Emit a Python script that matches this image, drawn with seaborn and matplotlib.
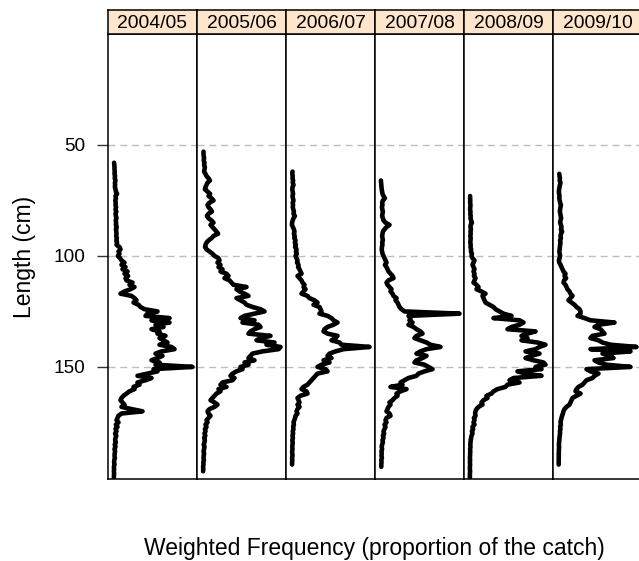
import numpy as np
import pandas as pd
import matplotlib
matplotlib.use("Agg")
import matplotlib.pyplot as plt
import seaborn as sns

seasons = ["2004/05", "2005/06", "2006/07", "2007/08", "2008/09", "2009/10"]
len_start = [58, 53, 62, 66, 73, 63]  # first length class (cm) per season

freq_0405 = [0.03,0.04,0.05,0.05,0.06,0.05,0.08,0.06,0.10,0.07,0.08,0.07,0.10,
             0.12,0.18,0.10,0.12,0.09,0.11,0.10,0.13,0.10,0.14,0.10,0.12,0.15,0.11,0.13,0.12,0.16,0.12,0.14,0.15,
             0.13,0.17,0.14,0.18,0.15,0.30,0.35,0.25,0.30,0.22,
             0.33,0.40,0.55,0.40,0.60,0.45,0.70,0.55,0.73,0.60,0.65,0.95,0.80,1.05,0.85,0.55,0.35,0.90,1.05,1.15,
             1.00,1.25,1.35,1.55,2.20,1.70,1.60,2.80,1.90,2.80,2.10,2.50,1.90,2.30,2.20,2.60,2.30,2.50,2.70,2.30,
             2.90,3.05,2.40,2.10,2.45,2.20,1.90,2.30,2.10,3.95,2.00,2.20,1.70,1.20,1.90,1.60,1.20,1.30,1.00,1.05,
             0.80,0.65,0.50,0.40,0.35,0.45,0.55,0.40,0.90,1.45,0.40,0.25,0.20,0.15,0.25,0.12,0.20,0.10,0.15,0.08,
             0.14,0.10,0.08,0.12,0.06,0.10,0.05,0.08,0.06,0.05,0.07,0.04,0.03,0.05,0.02,0.03,0.02,0.03,0.02,0.02]

freq_0506 = [0.05,0.05,0.06,0.08,0.06,0.10,0.08,0.12,0.10,0.08,
             0.15,0.20,0.30,0.37,0.25,0.20,0.15,0.12,0.25,0.38,0.30,0.45,0.55,0.35,0.25,0.30,0.40,0.47,0.30,0.22,
             0.30,0.45,0.55,0.40,0.50,0.60,0.70,0.78,0.55,0.45,0.30,0.20,0.15,0.13,0.20,0.35,0.50,0.60,
             0.80,0.85,0.75,0.90,0.80,1.00,0.90,1.20,1.30,1.10,1.35,1.45,1.55,2.20,1.70,1.85,2.10,2.30,1.70,1.90,
             2.10,2.20,2.50,2.90,3.10,2.60,2.10,1.90,2.60,2.00,2.80,2.90,2.60,2.40,2.30,3.40,2.90,2.70,3.60,3.20,
             3.90,3.80,3.00,2.50,2.40,2.30,2.60,2.10,2.30,1.90,2.00,1.70,1.50,1.40,1.60,1.50,1.00,0.90,1.20,0.80,
             0.90,0.70,0.60,0.50,0.40,0.60,0.75,0.60,0.35,0.25,0.30,0.40,0.30,0.20,0.25,0.15,0.20,0.12,0.15,0.10,
             0.14,0.08,0.12,0.10,0.06,0.10,0.08,0.05,0.08,0.06,0.05,0.07,0.04,0.05,0.03,0.04,0.03]

freq_0607 = [0.05,0.04,0.06,0.05,0.08,0.06,0.10,0.05,0.04,0.06,0.08,0.05,0.07,0.10,0.06,0.08,0.06,0.09,0.12,0.10,
             0.17,0.10,0.06,0.03,0.02,0.07,0.12,0.15,0.12,0.16,0.14,0.20,0.17,0.22,0.18,0.25,0.22,0.27,0.20,0.25,
             0.30,0.28,0.35,0.33,0.40,0.45,0.50,0.30,0.40,0.50,0.55,0.65,0.60,0.70,0.60,0.50,0.80,0.90,1.15,1.30,
             1.10,1.40,1.45,1.50,1.40,1.80,2.00,2.10,2.30,2.10,1.80,1.65,1.60,1.80,2.30,2.20,2.00,2.40,2.50,3.90,
             2.60,2.20,1.90,1.80,2.00,1.60,1.90,1.50,1.30,1.70,1.80,1.30,1.20,1.10,1.00,0.90,0.80,0.60,0.50,0.75,
             0.80,0.45,0.30,0.35,0.40,0.30,0.40,0.30,0.25,0.30,0.20,0.18,0.14,0.10,0.12,0.08,0.10,0.06,0.08,0.05,
             0.07,0.04,0.06,0.05,0.04,0.05,0.03,0.04,0.05,0.03,0.04,0.03,0.03]

freq_0708 = [0.02,0.03,0.04,0.05,0.06,0.08,0.10,0.15,0.22,0.12,0.08,0.10,0.07,0.09,0.12,0.10,0.08,0.12,0.15,0.25,
             0.45,0.30,0.20,0.12,0.10,0.08,0.10,0.12,0.08,0.10,0.07,0.06,0.08,0.10,0.15,0.20,0.25,0.30,0.22,0.30,
             0.35,0.40,0.50,0.60,0.65,0.40,0.30,0.35,0.45,0.55,0.50,0.60,0.65,0.80,0.75,0.85,0.90,0.95,1.05,1.20,
             3.95,1.40,1.50,1.45,1.60,1.40,1.65,1.80,2.00,2.10,1.80,1.70,2.00,2.30,2.50,3.00,2.30,2.00,1.80,2.30,
             2.10,1.80,1.70,2.20,2.40,2.60,2.20,1.90,1.80,1.40,1.20,1.00,1.10,0.50,1.30,1.00,0.80,0.85,0.70,0.60,
             0.45,0.50,0.40,0.35,0.30,0.45,0.50,0.30,0.25,0.30,0.20,0.25,0.20,0.15,0.18,0.12,0.15,0.10,0.12,0.08,
             0.06,0.08,0.05,0.06,0.05,0.07,0.04,0.05,0.04,0.04]

freq_0809 = [0.03,0.03,0.04,0.03,0.05,0.04,0.03,0.05,0.04,0.06,0.05,0.08,0.12,0.06,0.05,0.07,0.05,0.06,0.04,0.06,
             0.05,0.04,0.06,0.05,0.08,0.07,0.12,0.10,0.15,0.25,0.20,0.15,0.20,0.25,0.20,0.25,0.22,0.30,0.25,0.20,
             0.35,0.45,0.35,0.60,0.80,0.65,0.70,0.75,0.80,1.00,1.20,1.30,1.50,1.70,2.10,1.20,2.50,2.70,2.50,2.10,
             1.90,3.30,2.90,2.60,2.90,2.60,3.40,3.80,3.50,3.30,2.80,3.50,3.10,2.80,3.20,3.70,3.80,3.30,3.60,2.40,
             2.80,3.60,2.20,2.00,2.50,1.90,1.80,1.40,
             1.20,1.10,0.85,0.90,0.70,0.60,0.65,0.45,0.35,0.30,0.28,0.30,0.22,0.25,0.20,0.25,0.15,0.18,0.12,0.15,
             0.10,0.08,0.06,0.05,0.04,0.05,0.03,0.04,0.03,0.03,0.02,0.03,0.02,0.03,0.02,0.02,0.03,0.02,0.02,0.02]

freq_0910 = [0.04,0.05,0.07,0.06,0.10,0.07,0.05,0.03,0.02,0.03,0.05,0.04,0.06,0.08,0.12,0.10,0.08,0.07,0.09,0.11,
             0.13,0.10,0.08,0.12,0.15,0.12,0.18,0.13,0.10,0.12,0.08,0.10,0.08,0.07,0.06,0.04,0.06,0.08,0.05,0.02,
             0.04,0.10,0.15,0.20,0.25,0.35,0.30,0.38,0.28,0.25,0.35,0.40,0.45,0.55,0.60,0.70,0.60,0.50,0.65,0.80,
             0.90,1.05,1.10,1.10,0.95,1.30,1.60,2.80,2.00,1.80,2.10,2.20,2.30,1.70,1.60,2.00,2.20,2.60,3.90,1.60,
             3.60,2.20,2.60,2.75,1.80,2.00,2.40,3.60,1.40,1.60,2.00,1.80,1.70,1.40,1.30,1.20,1.00,0.90,0.85,1.10,
             0.90,0.70,0.65,0.60,0.55,0.40,0.30,0.25,0.22,0.18,0.15,0.12,0.10,0.12,0.08,0.10,0.07,0.08,0.06,0.05,
             0.04,0.03,0.02,0.03,0.02,0.02,0.01,0.02,0.01,0.01,0.01,0.01]

all_freqs = [freq_0405, freq_0506, freq_0607, freq_0708, freq_0809, freq_0910]
ytick_vals = [50, 100, 150]

rows = []
for s, st, fr in zip(seasons, len_start, all_freqs):
    for i, f in enumerate(fr):
        rows.append((s, st + i, f))
df = pd.DataFrame(rows, columns=["season", "length", "freq"])

sns.set_style("white")
plt.rcParams["font.family"] = ["Liberation Sans", "DejaVu Sans"]
plt.rcParams["text.color"] = "black"
plt.rcParams["axes.labelcolor"] = "black"
plt.rcParams["xtick.color"] = "black"
plt.rcParams["ytick.color"] = "black"

W, H = 639, 561
fig = plt.figure(figsize=(W / 100, H / 100), dpi=100)

left0, pw = 108, 89
top, bottom = 34, 479
strip_top = 10
for i, s in enumerate(seasons):
    x0 = left0 + i * pw
    ax = fig.add_axes([x0 / W, 1 - bottom / H, pw / W, (bottom - top) / H])
    for yv in ytick_vals:
        ax.axhline(yv, color="#BEBEBE", lw=1.0, dashes=(5, 3.5), zorder=1)
    sub = df[df["season"] == s]
    sns.lineplot(data=sub, x="freq", y="length", orient="y", sort=False,
                 estimator=None, color="black", lw=3.3, ax=ax,
                 solid_joinstyle="round", solid_capstyle="round", zorder=3)
    ax.set_xlim(-0.275, 4.175)
    ax.set_ylim(200.5, 0)
    ax.set_xlabel("")
    ax.set_ylabel("")
    ax.set_xticks([])
    if i == 0:
        ax.set_yticks(ytick_vals)
        ax.tick_params(axis="y", direction="out", length=8, width=1.0,
                       color="#333333", labelcolor="black", labelsize=13.7,
                       pad=8.5, left=True)
    else:
        ax.set_yticks([])
    for sp in ax.spines.values():
        sp.set_color("black")
        sp.set_linewidth(1.1)
    # strip
    sax = fig.add_axes([x0 / W, 1 - top / H, pw / W, (top - strip_top) / H])
    sax.set_facecolor("#FFE5CC")
    sax.set_xticks([])
    sax.set_yticks([])
    for sp in sax.spines.values():
        sp.set_color("black")
        sp.set_linewidth(1.1)
    sax.text(0.5, 0.45, s, ha="center", va="center", fontsize=13.9,
             color="black", transform=sax.transAxes)

fig.text(24 / W, 1 - 257 / H, "Length (cm)", rotation=90, ha="center",
         va="center", fontsize=16.5, color="black")
fig.text(374 / W, 1 - 548 / H, "Weighted Frequency (proportion of the catch)",
         ha="center", va="center", fontsize=16.5, color="black")

fig.savefig("out.png", dpi=100)
